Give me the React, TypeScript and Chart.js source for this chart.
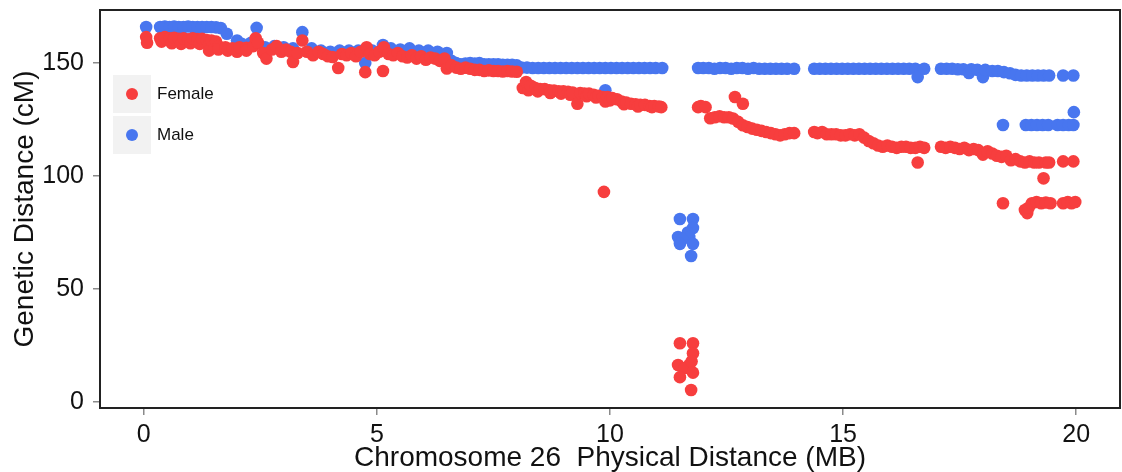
import React, { useEffect, useRef } from "react";
import { Chart, registerables } from "chart.js";

Chart.register(...registerables);

const xTicks = [0, 5, 10, 15, 20];
const yTicks = [0, 50, 100, 150];
const seriesNames = ["Female", "Male"];
const seriesColors = ["#F73E3E", "#4876EF"];
const xTitle = "Chromosome 26  Physical Distance (MB)";
const yTitle = "Genetic Distance (cM)";

// [physical distance (MB), genetic distance (cM)]
const femalePoints: [number, number][] = [
  [0.05, 161.5], [0.07, 159], [0.35, 161], [0.38, 159.5], [0.45, 161.5], [0.55, 161], [0.6, 158.8],
  [0.65, 161.2], [0.75, 160.8], [0.8, 158.5], [0.85, 161], [0.95, 160.5], [1.0, 158.8], [1.05, 161],
  [1.15, 160.6], [1.2, 158.5], [1.25, 160.8], [1.35, 160.2], [1.4, 158], [1.4, 155.5], [1.45, 160],
  [1.55, 159.5], [1.6, 157.5], [1.6, 156], [1.75, 157], [1.8, 155.5], [1.9, 156.5], [2.0, 155],
  [2.05, 157], [2.2, 156.8], [2.2, 155.5], [2.35, 157.5], [2.4, 161], [2.45, 159], [2.56, 154.5],
  [2.63, 152], [2.75, 156], [2.85, 157.5], [2.95, 155], [3.05, 156], [3.15, 155], [3.2, 150.5],
  [3.3, 154.5], [3.4, 160], [3.5, 155], [3.63, 153.5], [3.75, 155], [3.85, 154], [3.95, 153],
  [4.05, 152.7], [4.17, 147.8], [4.25, 154], [4.35, 153.5], [4.45, 154.5], [4.55, 153], [4.65, 155],
  [4.75, 146], [4.78, 157], [4.85, 154], [4.95, 153.5], [5.05, 155], [5.13, 146.5], [5.15, 157],
  [5.25, 154], [5.35, 153.5], [5.45, 154.5], [5.55, 153], [5.65, 152.5], [5.75, 153.5], [5.85, 152],
  [5.95, 153], [6.05, 151.5], [6.15, 152.5], [6.25, 152], [6.35, 151], [6.45, 152], [6.5, 147.6],
  [6.6, 149], [6.7, 148], [6.8, 147.5], [6.9, 148], [7.0, 147.5], [7.1, 147], [7.2, 147], [7.3, 146.5],
  [7.4, 146.8], [7.5, 146.5], [7.6, 146.5], [7.7, 146.3], [7.8, 146.5], [7.9, 146.3], [8.0, 146.2],
  [8.13, 139], [8.2, 141.6], [8.25, 138], [8.3, 140], [8.4, 139], [8.45, 137.5], [8.5, 138.5],
  [8.6, 138.5], [8.7, 138], [8.72, 136.8], [8.8, 137.8], [8.9, 137.5], [8.95, 136.5], [9.0, 137.5],
  [9.1, 137.3], [9.15, 136], [9.2, 137], [9.3, 132], [9.36, 136.7], [9.45, 136.5], [9.5, 135.3],
  [9.55, 136.5], [9.65, 136], [9.7, 134.8], [9.75, 135.5], [9.85, 135], [9.87, 93], [9.9, 133],
  [9.95, 135], [10.0, 133.5], [10.05, 134.5], [10.15, 134], [10.25, 133], [10.3, 131.8], [10.35, 132.5],
  [10.45, 132], [10.55, 131.8], [10.6, 130.8], [10.65, 131.5], [10.75, 131.5], [10.85, 131],
  [10.9, 130.5], [10.95, 131], [11.05, 130.8], [11.1, 130.5],
  [11.5, 26], [11.78, 26], [11.78, 21.6], [11.46, 16.4], [11.7, 16.4], [11.6, 15], [11.75, 18],
  [11.78, 13], [11.5, 11], [11.74, 5.3],
  [11.89, 130.5], [11.95, 131], [12.05, 130.5], [12.15, 125.6], [12.25, 126], [12.35, 126.5],
  [12.45, 126], [12.55, 126], [12.64, 125.5], [12.68, 135], [12.75, 124], [12.85, 132], [12.85, 122.5],
  [12.95, 121.7], [13.05, 121], [13.15, 120.5], [13.25, 120], [13.35, 119.5], [13.45, 119],
  [13.55, 118.5], [13.65, 118], [13.75, 118.5], [13.85, 119], [13.95, 119], [14.38, 119.5],
  [14.45, 119], [14.55, 119.5], [14.65, 118.5], [14.75, 118.5], [14.85, 118.5], [14.95, 118],
  [15.05, 118], [15.15, 118.5], [15.25, 118], [15.35, 118.5], [15.45, 117], [15.55, 115.5],
  [15.65, 114.5], [15.75, 113.5], [15.85, 113], [15.95, 113.5], [16.05, 113], [16.15, 112.5],
  [16.25, 113], [16.35, 113], [16.45, 112.5], [16.55, 112.5], [16.6, 106], [16.65, 113], [16.74, 112.5],
  [17.1, 113], [17.2, 112.5], [17.3, 113], [17.4, 112.5], [17.5, 112], [17.6, 112.5], [17.7, 111.5],
  [17.8, 112], [17.9, 111.5], [18.0, 109.5], [18.1, 111], [18.2, 110], [18.3, 109], [18.4, 108.5],
  [18.5, 109], [18.6, 107], [18.7, 107.5], [18.8, 106.5], [18.9, 106], [19.0, 106.5], [19.1, 106],
  [19.2, 106], [19.3, 99], [19.35, 106], [19.42, 106], [19.72, 106.5], [19.94, 106.5],
  [18.43, 88], [18.9, 85], [18.95, 83.6], [18.98, 86], [19.05, 88], [19.15, 88.5], [19.25, 88],
  [19.35, 88.3], [19.45, 88], [19.72, 88], [19.82, 88.5], [19.9, 88], [19.98, 88.5],
];

const malePoints: [number, number][] = [
  [0.05, 166], [0.35, 166], [0.45, 166.2], [0.55, 166], [0.65, 166.2], [0.75, 166], [0.85, 166],
  [0.95, 166.2], [1.05, 166], [1.15, 166], [1.25, 166], [1.35, 166], [1.45, 166], [1.55, 165.8],
  [1.65, 165.5], [1.78, 163], [2.0, 160], [2.1, 158.5], [2.3, 159], [2.42, 165.6], [2.6, 157],
  [2.8, 157.5], [3.0, 157], [3.2, 156.5], [3.4, 163.7], [3.6, 156.5], [3.8, 155.5], [4.0, 155],
  [4.2, 155.5], [4.4, 155.5], [4.6, 155.5], [4.75, 150], [4.9, 155.5], [5.13, 158], [5.3, 156.5],
  [5.5, 156], [5.7, 156.5], [5.9, 155.5], [6.1, 155.5], [6.3, 155], [6.5, 154.5], [6.6, 151],
  [6.7, 150], [6.8, 149.5], [6.9, 149.8], [7.0, 150], [7.1, 149.8], [7.2, 150], [7.3, 149.5],
  [7.4, 149.5], [7.5, 149.5], [7.6, 149.5], [7.7, 149.3], [7.8, 149.3], [7.9, 149.3], [8.0, 149],
  [8.1, 148], [8.22, 148], [8.34, 147.8], [8.46, 147.8], [8.58, 147.8], [8.7, 147.8], [8.82, 147.8],
  [8.94, 147.8], [9.06, 147.8], [9.18, 147.8], [9.3, 147.8], [9.42, 147.8], [9.54, 147.8],
  [9.66, 147.8], [9.78, 147.8], [9.9, 138], [9.9, 147.8], [10.02, 147.8], [10.14, 147.8],
  [10.26, 147.8], [10.38, 147.8], [10.5, 147.8], [10.62, 147.8], [10.74, 147.8], [10.86, 147.8],
  [10.98, 147.8], [11.12, 147.8],
  [11.5, 81], [11.78, 81], [11.78, 77], [11.67, 75], [11.46, 73], [11.7, 73], [11.55, 72], [11.5, 70],
  [11.78, 70], [11.74, 64.6],
  [11.89, 147.8], [12.0, 147.8], [12.12, 147.8], [12.24, 147.5], [12.36, 147.8], [12.48, 147.8],
  [12.6, 147.5], [12.72, 147.8], [12.84, 147.8], [12.96, 147.5], [13.08, 147.8], [13.2, 147.5],
  [13.32, 147.5], [13.44, 147.5], [13.56, 147.5], [13.68, 147.5], [13.8, 147.5], [13.95, 147.5],
  [14.38, 147.5], [14.5, 147.5], [14.62, 147.5], [14.74, 147.5], [14.86, 147.5], [14.98, 147.5],
  [15.1, 147.5], [15.22, 147.5], [15.34, 147.5], [15.46, 147.5], [15.58, 147.5], [15.7, 147.5],
  [15.82, 147.5], [15.94, 147.5], [16.06, 147.5], [16.18, 147.5], [16.3, 147.5], [16.42, 147.5],
  [16.55, 147.5], [16.6, 143.8], [16.74, 147.5], [17.1, 147.5], [17.22, 147.5], [17.34, 147.5],
  [17.46, 147.3], [17.58, 147.3], [17.7, 145.6], [17.75, 147.3], [17.88, 147], [18.0, 143.8],
  [18.05, 147], [18.2, 146.5], [18.32, 146.5], [18.45, 146], [18.58, 145.5], [18.7, 144.8],
  [18.82, 144.5], [18.94, 144.5], [19.06, 144.5], [19.18, 144.5], [19.3, 144.5], [19.42, 144.5],
  [19.72, 144.5], [19.94, 144.5],
  [18.43, 122.6], [18.92, 122.6], [19.04, 122.6], [19.16, 122.6], [19.28, 122.6], [19.4, 122.6],
  [19.6, 122.6], [19.72, 122.6], [19.84, 122.6], [19.94, 122.6], [19.95, 128.3],
];

const FONT = '"Liberation Sans", Arial, Helvetica, sans-serif';

export default function App() {
  const canvasRef = useRef<HTMLCanvasElement>(null);

  useEffect(() => {
    const canvas = canvasRef.current;
    if (!canvas) return;
    const toXY = (pts: [number, number][]) => pts.map(([x, y]) => ({ x, y }));

    const framePlugin = {
      id: "frameAndLegend",
      afterDraw(chart: any) {
        const { ctx, chartArea: a } = chart;
        ctx.save();
        ctx.strokeStyle = "#222";
        ctx.lineWidth = 2;
        ctx.strokeRect(a.left, a.top, a.right - a.left, a.bottom - a.top);
        const keyX = a.left + 13;
        const keyW = 38;
        const keyH = 38;
        seriesNames.forEach((name, i) => {
          const top = a.top + 65 + i * 41;
          ctx.fillStyle = "#F2F2F2";
          ctx.fillRect(keyX, top, keyW, keyH);
          ctx.beginPath();
          ctx.arc(keyX + keyW / 2, top + keyH / 2, 6, 0, Math.PI * 2);
          ctx.fillStyle = seriesColors[i];
          ctx.fill();
          ctx.fillStyle = "#111";
          ctx.font = `17px ${FONT}`;
          ctx.textBaseline = "middle";
          ctx.textAlign = "left";
          ctx.fillText(name, keyX + keyW + 6, top + keyH / 2);
        });
        ctx.restore();
      },
    };

    const gridOpts = {
      drawOnChartArea: false,
      drawTicks: true,
      tickLength: 7,
      color: "#8a8a8a",
      lineWidth: 1.5,
    };

    const zeroPad = (s: any) => {
      s.paddingTop = 0;
      s.paddingBottom = 0;
      s.paddingLeft = 0;
      s.paddingRight = 0;
    };

    const chart = new Chart(canvas, {
      type: "scatter",
      data: {
        datasets: [
          {
            label: seriesNames[0],
            data: toXY(femalePoints),
            backgroundColor: seriesColors[0],
            borderWidth: 0,
            pointRadius: 6.3,
          },
          {
            label: seriesNames[1],
            data: toXY(malePoints),
            backgroundColor: seriesColors[1],
            borderWidth: 0,
            pointRadius: 6.3,
          },
        ],
      },
      options: {
        animation: false,
        responsive: false,
        devicePixelRatio: 1,
        events: [],
        layout: { autoPadding: false, padding: { top: 10, right: 2, left: 0, bottom: 0 } },
        plugins: {
          legend: { display: false },
          tooltip: { enabled: false },
        },
        scales: {
          x: {
            type: "linear",
            min: -0.94,
            max: 20.94,
            afterBuildTicks: (s: any) => {
              s.ticks = xTicks.map((v) => ({ value: v }));
            },
            afterFit: (s: any) => {
              s.height = 64;
              zeroPad(s);
            },
            grid: gridOpts,
            border: { display: false },
            ticks: {
              color: "#111",
              font: { size: 25, family: FONT },
              padding: 5,
              maxRotation: 0,
              autoSkip: false,
            },
            title: {
              display: true,
              text: xTitle,
              color: "#111",
              font: { size: 28, family: FONT, lineHeight: 1 },
              padding: { top: 0, bottom: 0 },
            },
          },
          y: {
            type: "linear",
            min: -2.65,
            max: 173.5,
            afterBuildTicks: (s: any) => {
              s.ticks = yTicks.map((v) => ({ value: v }));
            },
            afterFit: (s: any) => {
              s.width = 100;
              zeroPad(s);
            },
            grid: gridOpts,
            border: { display: false },
            ticks: {
              color: "#111",
              font: { size: 25, family: FONT },
              padding: 9,
              autoSkip: false,
            },
            title: {
              display: true,
              text: yTitle,
              color: "#111",
              font: { size: 28, family: FONT, lineHeight: 1.2 },
              padding: { top: 8, bottom: 0 },
            },
          },
        },
      },
      plugins: [framePlugin],
    } as any);

    return () => chart.destroy();
  }, []);

  return (
    <div style={{ position: "absolute", left: 0, top: 0, width: 1122, height: 472, background: "#fff" }}>
      <canvas ref={canvasRef} width={1122} height={472} style={{ display: "block" }} />
    </div>
  );
}
